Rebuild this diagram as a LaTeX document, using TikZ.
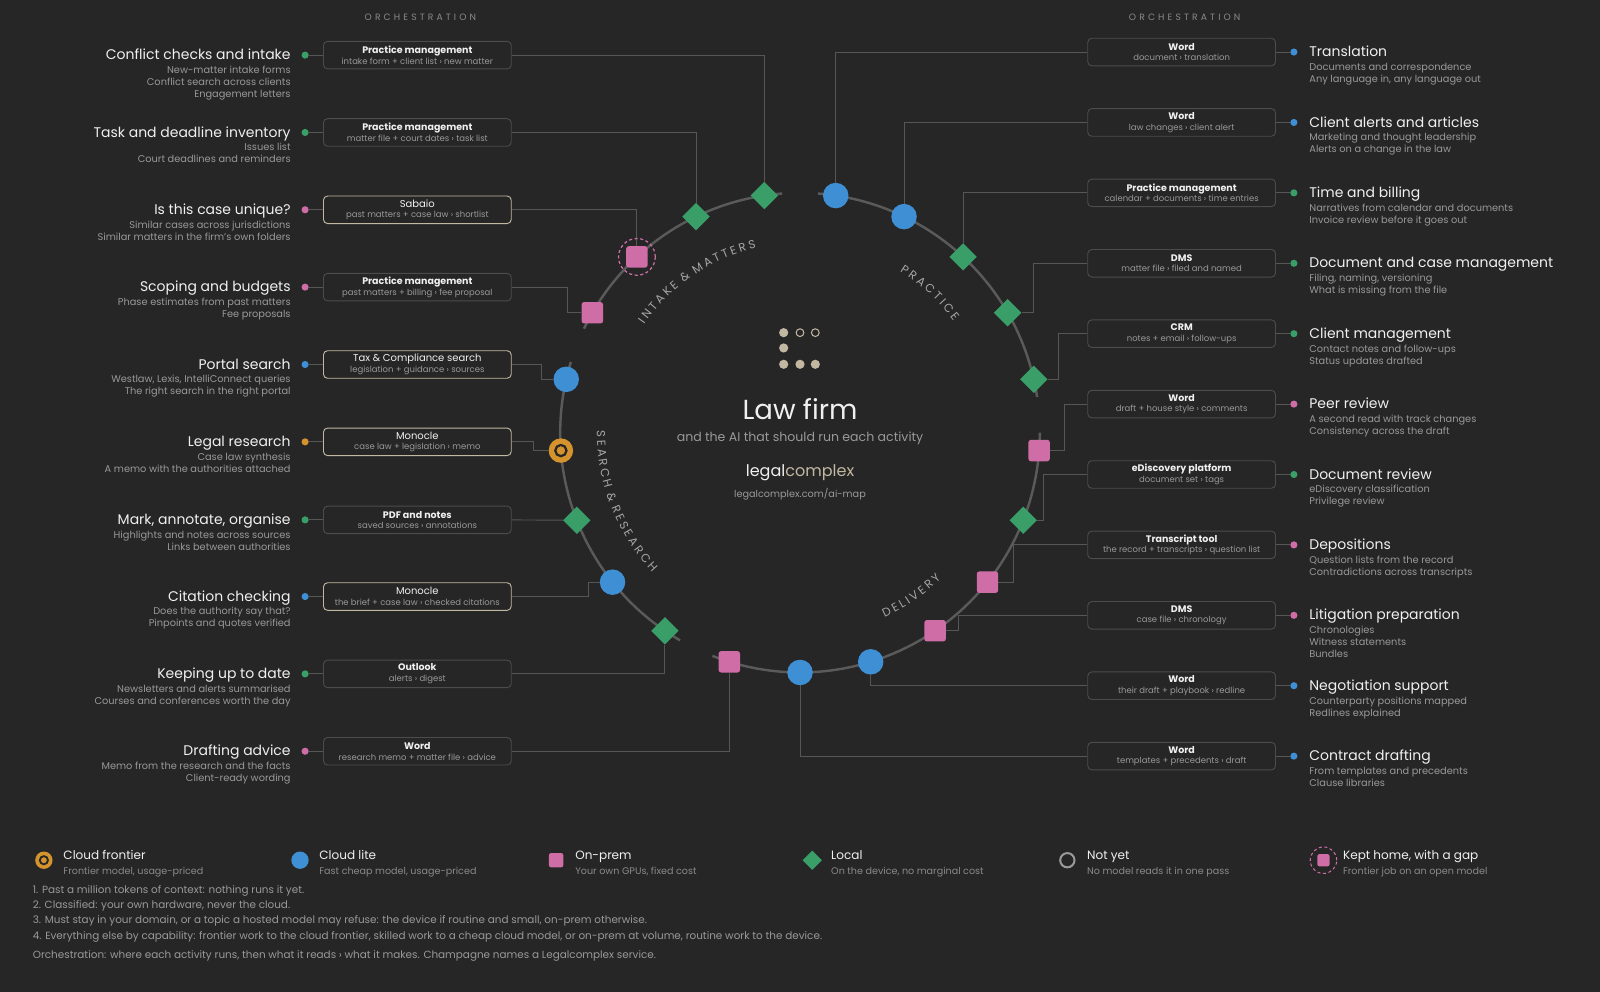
\documentclass[tikz,border=0pt]{standalone}
\usepackage{fontspec}
\setmainfont{Poppins}
\newfontfamily\spacedfont[LetterSpace=34]{Poppins}
\usepackage{tikz}
\usetikzlibrary{
    calc,
    shapes.geometric,
    decorations.text
}
\pgfdeclarelayer{bg}
\pgfsetlayers{bg,main}

\definecolor{bgc}{HTML}{262626}
\definecolor{mgreen}{HTML}{3A9E69}
\definecolor{mblue}{HTML}{3E8FD3}
\definecolor{mpink}{HTML}{CF6EA6}
\definecolor{morange}{HTML}{D4932C}
\definecolor{champ}{HTML}{C2B8A2}
\definecolor{ringc}{HTML}{5A5A5A}
\definecolor{wirec}{HTML}{565656}
\definecolor{boxc}{HTML}{4C4C4C}
\definecolor{hitext}{HTML}{F0F0F0}
\definecolor{lotext}{HTML}{999999}
\definecolor{dimtext}{HTML}{8A8A8A}
\definecolor{arctextc}{HTML}{A6A6A6}

\newcommand\tooltitle[1]{{\fontsize{9.3}{10.5}\selectfont\bfseries\color{hitext}#1}}
\newcommand\champtitle[1]{{\fontsize{9.8}{10.5}\selectfont\color{hitext}#1}}
\newcommand\arcfont{\fontsize{11.5}{13}\selectfont}
\newcommand\arcgap{\kern2.6pt}

\tikzset{
    arcline/.style={draw=ringc, line width=2.4pt},
    wire/.style={draw=wirec, line width=0.9pt},
    toolbox/.style={draw=boxc, rounded corners=4pt, line width=0.9pt,
        minimum width=184pt, minimum height=27pt, inner sep=0pt, align=center,
        text=lotext, font=\fontsize{8.3}{10.5}\selectfont},
    champbox/.style={toolbox, draw=champ},
    acttitle/.style={inner sep=0pt, text=hitext, font=\fontsize{13.7}{15}\selectfont},
    actsub/.style={inner sep=0pt, text=lotext, font=\fontsize{9.6}{11.8}\selectfont},
    actdot/.style={circle, inner sep=0pt, minimum size=7pt},
    mlite/.style={circle, fill=mblue, minimum size=25pt, inner sep=0pt},
    mlocal/.style={diamond, fill=mgreen, minimum size=27pt, inner sep=0pt},
    monprem/.style={rectangle, rounded corners=2.5pt, fill=mpink, minimum size=21pt, inner sep=0pt},
    mfrontier/.style={circle, fill=morange, minimum size=24pt, inner sep=0pt,
        path picture={\draw[bgc, line width=2.2pt] (path picture bounding box.center) circle (5.5pt);}},
    gapring/.style={draw=mpink, dash pattern=on 3pt off 2.5pt, line width=1.2pt},
    orch/.style={text=dimtext, font=\spacedfont\fontsize{9}{10}\selectfont},
    arctext/.style={decorate, decoration={text along path, text align=center, text color=arctextc}},
    legtitle/.style={inner sep=0pt, text=hitext, font=\fontsize{11.8}{13}\selectfont},
    legsub/.style={inner sep=0pt, text=dimtext, font=\fontsize{9.4}{11}\selectfont},
    note/.style={inner sep=0pt, text=lotext, font=\fontsize{10.2}{12}\selectfont}
}

\begin{document}
\begin{tikzpicture}[x=1pt, y=1pt]
    \useasboundingbox (0,0) rectangle (1568,-972);
    \coordinate (hub) at (784,-424);

    % activity markers round the ring
    \foreach \i/\kind in {1/mlocal,2/mlocal,3/monprem,4/monprem,5/mlite,6/mfrontier,7/mlocal,
        8/mlite,9/mlocal,10/monprem,11/mlite,12/mlite,13/monprem,14/monprem,15/mlocal,
        16/monprem,17/mlocal,18/mlocal,19/mlocal,20/mlite,21/mlite}
        \node[\kind] (m\i) at ($(hub)+({98.571+17.143*(\i-1)}:235)$) {};
    \draw[gapring] (m3) circle (18);

    % left column
    \foreach \n/\yy/\col/\ttl/\sub/\bx/\tool/\io in {
        1/54/mgreen/{Conflict checks and intake}/{New-matter intake forms\\Conflict search across clients\\Engagement letters}/toolbox/{\tooltitle{Practice management}}/{intake form + client list › new matter},
        2/129.8/mgreen/{Task and deadline inventory}/{Issues list\\Court deadlines and reminders}/toolbox/{\tooltitle{Practice management}}/{matter file + court dates › task list},
        3/205.6/mpink/{Is this case unique?}/{Similar cases across jurisdictions\\Similar matters in the firm's own folders}/champbox/{\champtitle{Sabaio}}/{past matters + case law › shortlist},
        4/281.4/mpink/{Scoping and budgets}/{Phase estimates from past matters\\Fee proposals}/toolbox/{\tooltitle{Practice management}}/{past matters + billing › fee proposal},
        5/357.2/mblue/{Portal search}/{Westlaw, Lexis, IntelliConnect queries\\The right search in the right portal}/champbox/{\champtitle{Tax \& Compliance search}}/{legislation + guidance › sources},
        6/433/morange/{Legal research}/{Case law synthesis\\A memo with the authorities attached}/champbox/{\champtitle{Monocle}}/{case law + legislation › memo},
        7/509.5/mgreen/{Mark, annotate, organise}/{Highlights and notes across sources\\Links between authorities}/toolbox/{\tooltitle{PDF and notes}}/{saved sources › annotations},
        8/584.6/mblue/{Citation checking}/{Does the authority say that?\\Pinpoints and quotes verified}/champbox/{\champtitle{Monocle}}/{the brief + case law › checked citations},
        9/660.4/mgreen/{Keeping up to date}/{Newsletters and alerts summarised\\Courses and conferences worth the day}/toolbox/{\tooltitle{Outlook}}/{alerts › digest},
        10/736.2/mpink/{Drafting advice}/{Memo from the research and the facts\\Client-ready wording}/toolbox/{\tooltitle{Word}}/{research memo + matter file › advice}}
    {
        \node[acttitle, anchor=base east] (lt\n) at (285,{-\yy-4.5}) {\ttl};
        \node[actsub, anchor=north east, align=right] (ls\n) at (285,{-\yy-10.5}) {\sub};
        \node[actdot, fill=\col] (ld\n) at (299,-\yy) {};
        \node[\bx] (lb\n) at (409,-\yy) {\tool\\\io};
    }

    % right column
    \foreach \n/\yy/\col/\ttl/\sub/\tool/\io in {
        21/51/mblue/{Translation}/{Documents and correspondence\\Any language in, any language out}/{Word}/{document › translation},
        20/120/mblue/{Client alerts and articles}/{Marketing and thought leadership\\Alerts on a change in the law}/{Word}/{law changes › client alert},
        19/189/mgreen/{Time and billing}/{Narratives from calendar and documents\\Invoice review before it goes out}/{Practice management}/{calendar + documents › time entries},
        18/258/mgreen/{Document and case management}/{Filing, naming, versioning\\What is missing from the file}/{DMS}/{matter file › filed and named},
        17/327/mgreen/{Client management}/{Contact notes and follow-ups\\Status updates drafted}/{CRM}/{notes + email › follow-ups},
        16/396/mpink/{Peer review}/{A second read with track changes\\Consistency across the draft}/{Word}/{draft + house style › comments},
        15/465/mgreen/{Document review}/{eDiscovery classification\\Privilege review}/{eDiscovery platform}/{document set › tags},
        14/534/mpink/{Depositions}/{Question lists from the record\\Contradictions across transcripts}/{Transcript tool}/{the record + transcripts › question list},
        13/603/mpink/{Litigation preparation}/{Chronologies\\Witness statements\\Bundles}/{DMS}/{case file › chronology},
        12/672/mblue/{Negotiation support}/{Counterparty positions mapped\\Redlines explained}/{Word}/{their draft + playbook › redline},
        11/741/mblue/{Contract drafting}/{From templates and precedents\\Clause libraries}/{Word}/{templates + precedents › draft}}
    {
        \node[acttitle, anchor=base west] (rt\n) at (1283,{-\yy-4.5}) {\ttl};
        \node[actsub, anchor=north west, align=left] (rs\n) at (1283,{-\yy-10.5}) {\sub};
        \node[actdot, fill=\col] (rd\n) at (1268,-\yy) {};
        \node[toolbox] (rb\n) at (1158,-\yy) {\tooltitle{\tool}\\\io};
    }

    \node[orch] (orchl) at (412,-17) {ORCHESTRATION};
    \node[orch] (orchr) at (1161,-17) {ORCHESTRATION};

    % ring sections and their names
    \begin{pgfonlayer}{bg}
        \fill[bgc] (0,0) rectangle (1568,-972);
        \foreach \a/\b in {94.29/154.29, 162.86/240, 248.57/360, 8.57/85.71}
            \draw[arcline] ($(hub)+(\a:235)$) arc[start angle=\a, end angle=\b, radius=235];
        \foreach \n in {1,...,10}
            \draw[wire] (ld\n) -- (lb\n.west);
        \foreach \n in {11,...,21}
            \draw[wire] (rb\n.east) -- (rd\n);
        \draw[wire] (lb1.east) -| (m1);
        \draw[wire] (lb2.east) -| (m2);
        \draw[wire] (lb3.east) -| (m3);
        \draw[wire] (lb4.east) -- ++(55,0) |- (m4);
        \draw[wire] (lb5.east) -- ++(29,0) |- (m5);
        \draw[wire] (lb6.east) -- ++(21,0) |- (m6);
        \draw[wire] (lb7.east) -- (m7);
        \draw[wire] (lb8.east) -- ++(75,0) |- (m8);
        \draw[wire] (lb9.east) -| (m9);
        \draw[wire] (lb10.east) -| (m10);
        \draw[wire] (rb21.west) -| (m21);
        \draw[wire] (rb20.west) -| (m20);
        \draw[wire] (rb19.west) -| (m19);
        \draw[wire] (rb18.west) -- ++(-53,0) |- (m18);
        \draw[wire] (rb17.west) -- ++(-28,0) |- (m17);
        \draw[wire] (rb16.west) -- ++(-22,0) |- (m16);
        \draw[wire] (rb15.west) -- ++(-43,0) |- (m15);
        \draw[wire] (rb14.west) -- ++(-72,0) |- (m14);
        \draw[wire] (rb13.west) -- ++(-126,0) |- (m13);
        \draw[wire] (rb12.west) -| (m12);
        \draw[wire] (rb11.west) -| (m11);
    \end{pgfonlayer}

    \path[arctext, decoration={text={|\arcfont|I{\arcgap}N{\arcgap}T{\arcgap}A{\arcgap}K{\arcgap}E{\arcgap} {\&}{\arcgap} M{\arcgap}A{\arcgap}T{\arcgap}T{\arcgap}E{\arcgap}R{\arcgap}S}}]
        ($(hub)+(155:186)$) arc[start angle=155, end angle=93.6, radius=186];
    \path[arctext, decoration={text={|\arcfont|P{\arcgap}R{\arcgap}A{\arcgap}C{\arcgap}T{\arcgap}I{\arcgap}C{\arcgap}E}}]
        ($(hub)+(80:186)$) arc[start angle=80, end angle=14.28, radius=186];
    \path[arctext, decoration={text={|\arcfont|S{\arcgap}E{\arcgap}A{\arcgap}R{\arcgap}C{\arcgap}H{\arcgap} {\&}{\arcgap} R{\arcgap}E{\arcgap}S{\arcgap}E{\arcgap}A{\arcgap}R{\arcgap}C{\arcgap}H}}]
        ($(hub)+(165:199)$) arc[start angle=165, end angle=237.86, radius=199];
    \path[arctext, decoration={text={|\arcfont|D{\arcgap}E{\arcgap}L{\arcgap}I{\arcgap}V{\arcgap}E{\arcgap}R{\arcgap}Y}}]
        ($(hub)+(270:199)$) arc[start angle=270, end angle=338.57, radius=199];

    % centre mark and title
    \foreach \x/\y in {768/326, 768/341, 768/357, 784/357, 799/357}
        \fill[champ] (\x,-\y) circle (4.5);
    \foreach \x in {784,799}
        \draw[champ, line width=1pt] (\x,-326) circle (3.8);
    \node[text=hitext, font=\fontsize{27}{30}\selectfont] (firm) at (784,-401) {Law firm};
    \node[text=lotext, font=\fontsize{12.3}{14}\selectfont] (tagline) at (784,-430) {and the AI that should run each activity};
    \node[font=\fontsize{15.7}{17}\selectfont] (brand) at (784,-463) {\textcolor{hitext}{legal}\textcolor{champ}{complex}};
    \node[text=lotext, font=\fontsize{9.5}{11}\selectfont] (url) at (784,-484) {legalcomplex.com/ai-map};

    % legend
    \node[circle, fill=morange, minimum size=17pt, inner sep=0pt,
        path picture={\draw[bgc, line width=1.8pt] (path picture bounding box.center) circle (4pt);}] (key0) at (43,-843) {};
    \node[mlite, minimum size=17pt] (key1) at (294,-843) {};
    \node[monprem, minimum size=14pt, rounded corners=2pt] (key2) at (545,-843) {};
    \node[mlocal, minimum size=19pt] (key3) at (796,-843) {};
    \node[circle, draw=lotext, line width=2pt, minimum size=14pt, inner sep=0pt] (key4) at (1046,-843) {};
    \node[monprem, minimum size=12pt, rounded corners=2pt] (key5) at (1297,-843) {};
    \draw[gapring, line width=1pt] (key5) circle (13);
    \foreach \k/\ttl/\sub in {0/{Cloud frontier}/{Frontier model, usage-priced},
        1/{Cloud lite}/{Fast cheap model, usage-priced},
        2/{On-prem}/{Your own GPUs, fixed cost},
        3/{Local}/{On the device, no marginal cost},
        4/{Not yet}/{No model reads it in one pass},
        5/{Kept home, with a gap}/{Frontier job on an open model}}
    {
        \node[legtitle, anchor=base west] (lg\k) at ({62+250.8*\k},-842) {\ttl};
        \node[legsub, anchor=base west] (ls\k) at ({62+250.8*\k},-857) {\sub};
    }

    % notes
    \node[note, anchor=base west] (n1) at (32,-875.5) {1. Past a million tokens of context: nothing runs it yet.};
    \node[note, anchor=base west] (n2) at (32,-890.5) {2. Classified: your own hardware, never the cloud.};
    \node[note, anchor=base west] (n3) at (32,-905.5) {3. Must stay in your domain, or a topic a hosted model may refuse: the device if routine and small, on-prem otherwise.};
    \node[note, anchor=base west] (n4) at (32,-920.5) {4. Everything else by capability: frontier work to the cloud frontier, skilled work to a cheap cloud model, or on-prem at volume, routine work to the device.};
    \node[note, anchor=base west] (n5) at (32,-939.5) {Orchestration: where each activity runs, then what it reads › what it makes. Champagne names a Legalcomplex service.};
\end{tikzpicture}
\end{document}
